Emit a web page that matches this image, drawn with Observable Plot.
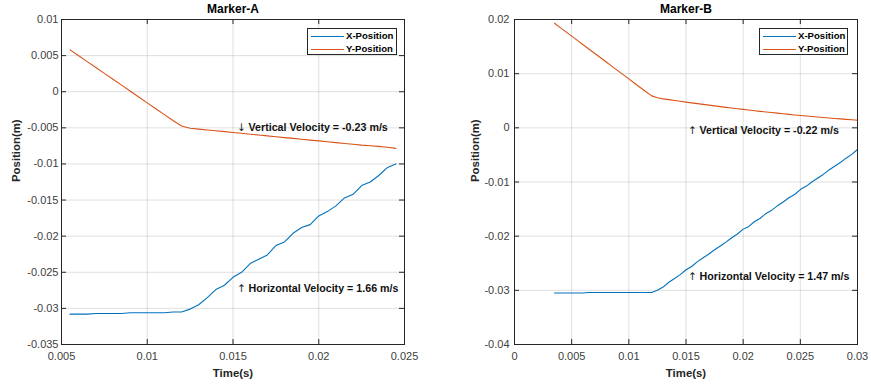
<!DOCTYPE html>
<html><head><meta charset="utf-8">
<script src="https://cdn.jsdelivr.net/npm/d3@7"></script>
<script src="https://cdn.jsdelivr.net/npm/@observablehq/plot@0.6"></script>
<style>
body{margin:0;background:#fff;font-family:"Liberation Sans",Arial,sans-serif;}
#wrap{position:relative;width:871px;height:386px;overflow:hidden;background:#fff;}
.panel{position:absolute;top:0;}
.legend{position:absolute;background:#fff;border:1px solid #262626;box-sizing:border-box;font-weight:bold;font-size:9.6px;color:#000;}
.legend .sw{position:absolute;left:3px;width:33px;height:0;border-top:1px solid;}
.legend .lb{position:absolute;left:38px;line-height:12px;white-space:nowrap;}
</style></head><body><div id="wrap"></div>
<script>
// ---------- data ----------
const seriesNames = ["X-Position", "Y-Position"];
const seriesColors = ["#0072BD", "#D95319"];

const timeA = [0.0055,0.0060,0.0065,0.0070,0.0075,0.0080,0.0085,0.0090,0.0095,0.0100,0.0105,0.0110,0.0115,0.0120,
  0.0125,0.0130,0.0135,0.0140,0.0145,0.0150,0.0155,0.0160,0.0165,0.0170,0.0175,0.0180,0.0185,0.0190,0.0195,0.0200,
  0.0205,0.0210,0.0215,0.0220,0.0225,0.0230,0.0235,0.0240,0.0245];
const xPosA = [-0.0308,-0.0308,-0.0308,-0.0307,-0.0307,-0.0307,-0.0307,-0.0306,-0.0306,-0.0306,-0.0306,-0.0306,-0.0305,-0.0305,
  -0.0301,-0.0295,-0.0285,-0.0274,-0.0268,-0.0257,-0.0250,-0.0238,-0.0232,-0.0226,-0.0213,-0.0208,-0.0196,-0.0188,-0.0184,-0.0172,
  -0.0166,-0.0158,-0.0147,-0.0142,-0.0130,-0.0125,-0.0116,-0.0105,-0.0100];
const yPosA = [0.00580,0.00498,0.00417,0.00335,0.00254,0.00172,0.00091,0.00009,-0.00072,-0.00154,-0.00235,-0.00317,-0.00398,-0.00475,
  -0.00505,-0.00518,-0.00530,-0.00541,-0.00553,-0.00565,-0.00576,-0.00588,-0.00600,-0.00612,-0.00623,-0.00635,-0.00646,-0.00658,-0.00670,-0.00681,
  -0.00693,-0.00705,-0.00716,-0.00728,-0.00740,-0.00748,-0.00757,-0.00768,-0.00785];

const timeB = [0.0035,0.0040,0.0045,0.0050,0.0055,0.0060,0.0065,0.0070,0.0075,0.0080,0.0085,0.0090,0.0095,0.0100,0.0105,0.0110,0.0115,0.0120,
  0.0125,0.0130,0.0135,0.0140,0.0145,0.0150,0.0155,0.0160,0.0165,0.0170,0.0175,0.0180,0.0185,0.0190,0.0195,0.0200,
  0.0205,0.0210,0.0215,0.0220,0.0225,0.0230,0.0235,0.0240,0.0245,0.0250,0.0255,0.0260,0.0265,0.0270,0.0275,0.0280,0.0285,0.0290,0.0295,0.0300];
const xPosB = [-0.0305,-0.0305,-0.0305,-0.0305,-0.0305,-0.0305,-0.0304,-0.0304,-0.0304,-0.0304,-0.0304,-0.0304,-0.0304,-0.0304,-0.0304,-0.0304,-0.0304,-0.0304,
  -0.0300,-0.0294,-0.0285,-0.0278,-0.0271,-0.0262,-0.0256,-0.0247,-0.0240,-0.0233,-0.0225,-0.0218,-0.0211,-0.0203,-0.0196,-0.0187,
  -0.0182,-0.0173,-0.0167,-0.0158,-0.0152,-0.0144,-0.0137,-0.0129,-0.0123,-0.0114,-0.0108,-0.0100,-0.0093,-0.0086,-0.0078,-0.0071,-0.0064,-0.0056,-0.0049,-0.0040];
const yPosB = [0.01930,0.01851,0.01772,0.01693,0.01614,0.01535,0.01456,0.01377,0.01298,0.01219,0.01140,0.01061,0.00982,0.00903,0.00824,0.00745,0.00666,0.00590,
  0.00555,0.00535,0.00520,0.00505,0.00490,0.00475,0.00461,0.00447,0.00433,0.00419,0.00405,0.00391,0.00378,0.00365,0.00352,0.00340,
  0.00328,0.00316,0.00304,0.00293,0.00282,0.00271,0.00260,0.00249,0.00238,0.00228,0.00218,0.00209,0.00200,0.00191,0.00182,0.00173,0.00165,0.00157,0.00149,0.00140];

const xTicksA = [0.005, 0.01, 0.015, 0.02, 0.025];
const yTicksA = [-0.035, -0.03, -0.025, -0.02, -0.015, -0.01, -0.005, 0, 0.005, 0.01];
const xTicksB = [0, 0.005, 0.01, 0.015, 0.02, 0.025, 0.03];
const yTicksB = [-0.04, -0.03, -0.02, -0.01, 0, 0.01, 0.02];

const notesA = [
  {t: 0.01532, v: -0.00495, arrow: "\u2193", label: "Vertical Velocity = -0.23 m/s"},
  {t: 0.01532, v: -0.02725, arrow: "\u2191", label: "Horizontal Velocity = 1.66 m/s"}
];
const notesB = [
  {t: 0.01531, v: -0.0005, arrow: "\u2191", label: "Vertical Velocity = -0.22 m/s"},
  {t: 0.01531, v: -0.0274, arrow: "\u2191", label: "Horizontal Velocity = 1.47 m/s"}
];

// ---------- drawing ----------
const FONT = "'Liberation Sans', Arial, Helvetica, sans-serif";
function rowsOf(time, xs, ys) {
  return [
    ...time.map((t, i) => ({t, v: xs[i], series: seriesNames[0]})),
    ...time.map((t, i) => ({t, v: ys[i], series: seriesNames[1]}))
  ];
}

function panel(cfg) {
  const fw = cfg.width - cfg.ml - cfg.mr;
  const fh = cfg.height - cfg.mt - cfg.mb;
  const tk = 5;
  const p = Plot.plot({
    width: cfg.width, height: cfg.height,
    marginLeft: cfg.ml, marginRight: cfg.mr, marginTop: cfg.mt, marginBottom: cfg.mb,
    style: {fontFamily: FONT, fontSize: "11px", color: "#404040", background: "transparent", overflow: "visible"},
    x: {domain: cfg.xDomain},
    y: {domain: cfg.yDomain},
    color: {domain: seriesNames, range: seriesColors},
    marks: [
      Plot.gridX(cfg.xTicks, {stroke: "#262626", strokeOpacity: 0.14}),
      Plot.gridY(cfg.yTicks, {stroke: "#262626", strokeOpacity: 0.14}),
      Plot.tickX(cfg.xTicks, {x: d => d, insetTop: fh - tk, stroke: "#262626"}),
      Plot.tickX(cfg.xTicks, {x: d => d, insetBottom: fh - tk, stroke: "#262626"}),
      Plot.tickY(cfg.yTicks, {y: d => d, insetRight: fw - tk, stroke: "#262626"}),
      Plot.tickY(cfg.yTicks, {y: d => d, insetLeft: fw - tk, stroke: "#262626"}),
      Plot.line(cfg.rows, {x: "t", y: "v", z: "series", stroke: "series", strokeWidth: 1.1}),
      Plot.frame({stroke: "#262626", strokeWidth: 1}),
      Plot.axisX(cfg.xTicks, {tickSize: 0, tickPadding: 8, tickFormat: d => String(d), label: null, fill: "#404040"}),
      Plot.axisY(cfg.yTicks, {tickSize: 0, tickPadding: cfg.yPad, tickFormat: d => String(d), label: null, fill: "#404040"}),
      Plot.text([cfg.title], {text: d => d, frameAnchor: "top", dy: -10.3, lineAnchor: "middle", fontWeight: "bold", fontSize: 12, fill: "#000"}),
      Plot.text(["Time(s)"], {text: d => d, frameAnchor: "bottom", dy: 28.7, lineAnchor: "middle", fontWeight: "bold", fontSize: 11.4, fill: "#262626"}),
      Plot.text(["Position(m)"], {text: d => d, frameAnchor: "left", rotate: -90, dx: cfg.yLabDx, lineAnchor: "middle", fontWeight: "bold", fontSize: 11.4, fill: "#262626"}),
      Plot.text(cfg.notes, {x: "t", y: "v", text: "arrow", textAnchor: "start", lineAnchor: "middle", dx: -1.5, fontFamily: "'DejaVu Sans', sans-serif", fontSize: 10.5, fill: "#222"}),
      Plot.text(cfg.notes, {x: "t", y: "v", text: "label", textAnchor: "start", lineAnchor: "middle", dx: 10, fontWeight: "bold", fontSize: 10.7, fill: "#111"})
    ]
  });
  p.classList.add("panel");
  p.style.left = cfg.left + "px";
  return p;
}

function legend(left, top, width) {
  const d = document.createElement("div");
  d.className = "legend";
  d.style.left = left + "px"; d.style.top = top + "px";
  d.style.width = width + "px"; d.style.height = "27px";
  const ys = [6.5, 19.7];
  seriesNames.forEach((name, i) => {
    const sw = document.createElement("div");
    sw.className = "sw"; sw.style.top = ys[i] + "px"; sw.style.borderColor = seriesColors[i];
    const lb = document.createElement("div");
    lb.className = "lb"; lb.style.top = (ys[i] - 6) + "px"; lb.textContent = name;
    d.append(sw, lb);
  });
  return d;
}

const wrap = document.getElementById("wrap");
wrap.append(panel({
  left: 0, width: 440, height: 386, ml: 61, mr: 36, mt: 19, mb: 42,
  xDomain: [0.005, 0.025], yDomain: [-0.035, 0.01],
  xTicks: xTicksA, yTicks: yTicksA, yPad: 3, yLabDx: -45,
  title: "Marker-A", rows: rowsOf(timeA, xPosA, yPosA), notes: notesA
}));
wrap.append(panel({
  left: 440, width: 431, height: 386, ml: 74, mr: 14, mt: 19, mb: 42,
  xDomain: [0, 0.03], yDomain: [-0.04, 0.02],
  xTicks: xTicksB, yTicks: yTicksB, yPad: 5, yLabDx: -39.5,
  title: "Marker-B", rows: rowsOf(timeB, xPosB, yPosB), notes: notesB
}));
wrap.append(legend(307, 28, 90));
wrap.append(legend(759, 28, 89));
</script>
</body></html>
